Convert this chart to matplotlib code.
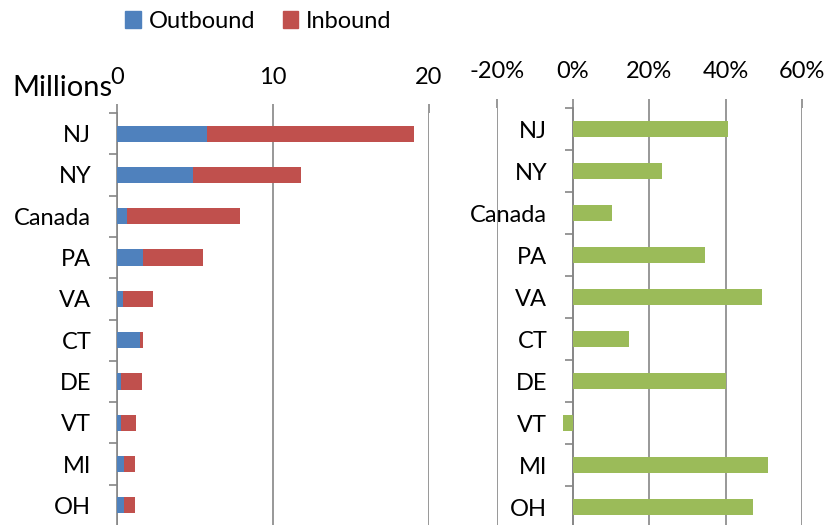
import matplotlib.pyplot as plt
import matplotlib.patches as mpatches
import numpy as np

plt.rcParams['font.family'] = ['Lato', 'DejaVu Sans']

regions = ['NJ', 'NY', 'Canada', 'PA', 'VA', 'CT', 'DE', 'VT', 'MI', 'OH']
outbound = [5.75, 4.85, 0.66, 1.69, 0.38, 1.47, 0.26, 0.28, 0.43, 0.43]
total = [19.06, 11.78, 7.88, 5.51, 2.29, 1.67, 1.58, 1.22, 1.15, 1.13]
inbound = [t - o for t, o in zip(total, outbound)]
growth = [40.5, 23.4, 10.3, 34.7, 49.4, 14.6, 40.2, -2.5, 51.0, 47.2]

left_ticks = [0, 10, 20]
right_ticks = [-20, 0, 20, 40, 60]

blue = '#4F81BD'
red = '#C0504D'
green = '#9BBB59'
grey = '#868686'
W, H = 836, 525

fig = plt.figure(figsize=(W / 100, H / 100), dpi=100)


def box(x0, x1, y0, y1):
    return [x0 / W, 1 - y1 / H, (x1 - x0) / W, (y1 - y0) / H]


def style(ax, ticks, pad):
    ax.set_ylim(len(regions) - 0.5, -0.5)
    ax.xaxis.tick_top()
    ax.set_xticks(ticks)
    ax.tick_params(axis='x', length=6.5, width=1.2, color=grey, pad=pad,
                   labelsize=17, direction='out')
    ax.grid(axis='x', color=grey, linewidth=1.2)
    ax.set_axisbelow(False)
    for s in ['top', 'right', 'bottom']:
        ax.spines[s].set_visible(False)
    ax.spines['left'].set_color(grey)
    ax.spines['left'].set_linewidth(1.2)
    y = np.arange(len(regions))
    ax.set_yticks(y)
    ax.set_yticklabels(regions)
    ax.set_yticks(np.arange(len(regions) + 1) - 0.5, minor=True)
    ax.tick_params(axis='y', which='major', length=0, pad=18.5, labelsize=17)
    ax.tick_params(axis='y', which='minor', length=6, width=1.2, color=grey)
    return y


ax1 = fig.add_axes(box(117, 429, 113, 526))
y = style(ax1, left_ticks, 11.5)
ax1.barh(y, outbound, height=0.39, color=blue, zorder=3)
ax1.barh(y, inbound, left=outbound, height=0.39, color=red, zorder=3)
ax1.set_xlim(0, 20)

ax2 = fig.add_axes(box(496.7, 802, 108, 528))
y = style(ax2, right_ticks, 12)
ax2.barh(y, growth, height=0.4, color=green, zorder=3)
ax2.set_xlim(-20, 60)
ax2.spines['left'].set_position(('data', 0))
ax2.set_xticklabels([f'{t}%' for t in right_ticks])

fig.text(12 / W, 1 - 88 / H, 'Millions', fontsize=21, va='center', ha='left')

handles = [mpatches.Patch(color=blue, label='Outbound'),
           mpatches.Patch(color=red, label='Inbound')]
fig.legend(handles=handles, loc='center left', bbox_to_anchor=(116 / W, 1 - 21 / H),
           ncol=2, frameon=False, fontsize=17, handlelength=0.65, handleheight=0.75,
           handletextpad=0.35, columnspacing=1.15, borderaxespad=0)

fig.savefig('out.png', dpi=100)
